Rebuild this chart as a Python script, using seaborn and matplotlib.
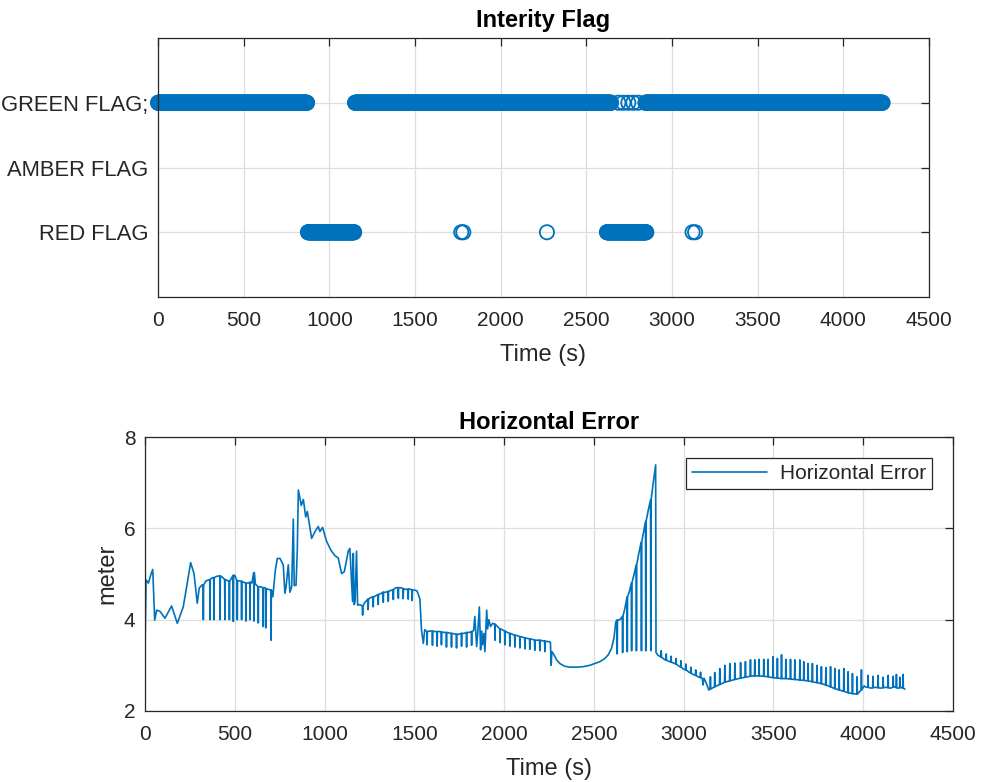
import numpy as np
import pandas as pd
import matplotlib
matplotlib.use("Agg")
import matplotlib.pyplot as plt
import seaborn as sns

# ---------------- data ----------------
flag_labels = ["RED FLAG", "AMBER FLAG", "GREEN FLAG;"]
flag_levels = [1, 2, 3]
# flag state runs (start s, end s) sampled every sample_step seconds
green_runs = [(0, 870), (1150, 2645), (2845, 4230)]
green_single = [2687, 2716, 2745, 2774, 2803]
red_runs = [(875, 1145), (2620, 2850)]
red_single = [1770, 1782, 2270, 3120, 3135]
sample_step = 2

# horizontal error trace: base points
base_time = [0, 6, 19, 32, 43, 54, 65, 84, 111, 148, 180, 213, 232, 254, 273, 291, 302, 317,
             340, 375, 400, 430, 458, 480, 500, 525, 550, 575, 595, 615, 645, 668, 690,
             712, 726, 737, 752, 770, 779, 785, 798, 807, 817, 826, 831, 841, 848, 854, 863,
             870, 882, 895, 904, 928, 947, 965, 974, 989, 1011, 1034, 1058, 1076, 1095, 1110,
             1132, 1141, 1156, 1160, 1165, 1170, 1178, 1184, 1195,
             1225, 1255, 1285, 1313, 1340, 1370, 1397, 1425, 1452, 1475, 1500, 1515, 1531,
             1540, 1550, 1558, 1585, 1613, 1640, 1665, 1693, 1720, 1748, 1777, 1805,
             1830, 1837, 1847, 1853, 1862, 1869, 1875, 1880, 1887, 1893, 1903, 1908, 1915,
             1924, 1936, 1963, 1990, 2018, 2046, 2074, 2102, 2130, 2157, 2185, 2213, 2240,
             2252, 2258, 2262, 2266, 2275, 2292, 2310, 2338, 2366, 2403, 2440, 2477, 2505,
             2533, 2561, 2580, 2598, 2612, 2622, 2645, 2673, 2698, 2723, 2750, 2777, 2803,
             2830, 2844, 2846, 2858, 2889, 2916, 2943, 2971, 2998, 3026, 3053, 3080, 3104,
             3108, 3113, 3127, 3140,
             4005, 4015, 4040, 4068, 4097, 4125, 4153, 4176, 4195, 4213, 4232]
base_value = [3.34, 4.87, 4.80, 4.98, 5.10, 3.99, 4.21, 4.18, 4.03, 4.30, 3.92, 4.28, 4.72, 5.25, 5.01, 4.36, 4.69, 4.76,
              4.85, 4.92, 4.95, 4.93, 4.86, 4.90, 4.97, 4.85, 4.82, 4.80, 4.80, 4.78, 4.72, 4.70, 4.66,
              4.50, 5.09, 5.34, 5.34, 5.20, 4.58, 4.70, 5.20, 4.60, 4.72, 6.20, 4.75, 4.75, 5.50, 6.84, 6.66,
              6.50, 6.63, 6.25, 6.37, 5.78, 5.93, 6.04, 5.93, 6.02, 5.72, 5.53, 5.40, 5.35, 5.01, 5.05,
              5.50, 5.56, 4.40, 5.45, 4.33, 4.40, 5.50, 4.32, 4.33,
              4.38, 4.48, 4.52, 4.57, 4.60, 4.64, 4.70, 4.70, 4.66, 4.67, 4.65, 4.63, 4.45,
              3.77, 3.48, 3.78, 3.75, 3.74, 3.74, 3.72, 3.71, 3.69, 3.68, 3.70, 3.72,
              3.76, 4.07, 3.41, 3.70, 4.28, 3.34, 3.75, 3.45, 3.70, 3.30, 4.21, 3.80, 4.00,
              3.85, 3.92, 3.85, 3.78, 3.72, 3.68, 3.65, 3.62, 3.59, 3.57, 3.55, 3.54, 3.52,
              3.52, 3.50, 3.00, 3.30, 3.25, 3.12, 3.04, 2.98, 2.96, 2.96, 2.97, 3.00, 3.04,
              3.08, 3.15, 3.23, 3.37, 3.60, 3.95, 4.00, 4.25, 4.62, 4.98, 5.45, 5.92, 6.40,
              6.98, 7.39, 3.28, 3.22, 3.14, 3.09, 3.05, 2.99, 2.92, 2.86, 2.80, 2.75, 2.71,
              2.57, 2.72, 2.60, 2.46,
              2.55, 2.52, 2.50, 2.52, 2.50, 2.52, 2.50, 2.53, 2.50, 2.52, 2.48]

# periodic spikes: time, trace value around spike, spike extreme value
tooth_time = [325, 362, 384, 418, 445, 470, 492, 514, 538, 562, 585, 607, 631, 659, 674, 702,
              1212, 1243, 1271, 1299, 1327, 1355, 1383, 1411, 1438, 1466, 1488,
              1571, 1601, 1627, 1651, 1679, 1707, 1735, 1763, 1791, 1819,
              1949, 1977, 2004, 2032, 2060, 2088, 2116, 2143, 2171, 2199, 2227,
              2630, 2660, 2686, 2710, 2737, 2765, 2789, 2817,
              2875, 2903, 2930, 2957, 2985, 3012, 3040, 3067, 3094,
              3149, 3173, 3201, 3229, 3257, 3285, 3317, 3344, 3372, 3396, 3420, 3446, 3470,
              3498, 3522, 3545, 3569, 3595, 3619, 3647, 3669, 3693, 3717, 3743, 3767, 3792,
              3818, 3842, 3866, 3892, 3916, 3940, 3966, 3990,
              4027, 4054, 4083, 4111, 4139, 4167, 4185, 4204, 4222]
tooth_base = [4.76, 4.88, 4.92, 4.96, 4.88, 4.84, 4.97, 4.85, 4.84, 4.80, 4.82, 5.03, 4.72, 4.70, 4.68, 4.65,
              4.30, 4.45, 4.50, 4.55, 4.60, 4.62, 4.66, 4.70, 4.68, 4.67, 4.65,
              3.74, 3.75, 3.74, 3.73, 3.72, 3.70, 3.68, 3.70, 3.72, 3.74,
              3.90, 3.80, 3.75, 3.70, 3.66, 3.63, 3.60, 3.58, 3.55, 3.55, 3.53,
              3.99, 4.07, 4.50, 4.80, 5.20, 5.70, 6.15, 6.62,
              3.18, 3.11, 3.07, 3.03, 2.96, 2.90, 2.83, 2.78, 2.73,
              2.48, 2.53, 2.58, 2.63, 2.66, 2.69, 2.72, 2.74, 2.76, 2.77, 2.77, 2.76, 2.75,
              2.73, 2.72, 2.71, 2.71, 2.70, 2.69, 2.68, 2.67, 2.66, 2.64, 2.62, 2.60, 2.57,
              2.53, 2.49, 2.46, 2.43, 2.40, 2.38, 2.37, 2.46,
              2.52, 2.51, 2.51, 2.51, 2.51, 2.52, 2.51, 2.51, 2.50]
tooth_tip = [4.00, 4.00, 4.00, 4.00, 4.00, 4.00, 3.96, 4.00, 4.00, 3.97, 4.00, 3.97, 3.93, 3.85, 3.82, 3.55,
             4.10, 4.22, 4.28, 4.33, 4.38, 4.40, 4.44, 4.47, 4.46, 4.45, 4.42,
             3.45, 3.44, 3.42, 3.45, 3.40, 3.40, 3.38, 3.42, 3.40, 3.44,
             3.55, 3.50, 3.45, 3.42, 3.40, 3.38, 3.36, 3.35, 3.33, 3.32, 3.30,
             3.25, 3.28, 3.30, 3.32, 3.32, 3.32, 3.32, 3.32,
             3.32, 3.25, 3.20, 3.15, 3.10, 3.03, 2.96, 2.90, 2.85,
             2.75, 2.84, 2.93, 3.00, 3.04, 3.05, 3.06, 3.08, 3.12, 3.12, 3.13, 3.13, 3.13,
             3.19, 3.15, 3.23, 3.13, 3.13, 3.12, 3.12, 3.08, 3.04, 3.04, 3.00, 2.97, 2.95,
             2.97, 2.93, 2.90, 2.93, 2.86, 2.82, 2.75, 2.90,
             2.78, 2.76, 2.78, 2.74, 2.78, 2.76, 2.80, 2.74, 2.80]

# ---------------- build tables ----------------
def expand(runs, singles):
    t = [np.arange(a, b + 1, sample_step) for a, b in runs]
    t.append(np.array(singles, dtype=float))
    return np.concatenate(t)

g_t = expand(green_runs, green_single)
r_t = expand(red_runs, red_single)
flags = pd.DataFrame({
    "time": np.concatenate([g_t, r_t]),
    "flag": np.concatenate([np.full(len(g_t), flag_levels[2]), np.full(len(r_t), flag_levels[0])]),
})

et, ev = list(base_time), list(base_value)
for t, b, p in zip(tooth_time, tooth_base, tooth_tip):
    et += [t - 1.5, t, t + 1.5]
    ev += [b, p, b]
err = pd.DataFrame({"time": et, "error": ev}).sort_values("time")

# ---------------- style ----------------
sns.set_theme(style="white")
plt.rcParams["font.family"] = ["Liberation Sans", "DejaVu Sans"]
C = "#0072BD"
TXT = "#262626"
GRID = "#dedede"

fig = plt.figure(figsize=(9.81, 7.82), dpi=100)
ax1 = fig.add_axes([158 / 981, 1 - 297 / 782, 771 / 981, 259 / 782])
ax2 = fig.add_axes([145 / 981, 1 - 711 / 782, 808 / 981, 274 / 782])

def style(ax):
    for s in ax.spines.values():
        s.set_color(TXT)
        s.set_linewidth(0.9)
    ax.tick_params(direction="in", length=5.5, width=0.9, colors=TXT, labelsize=15,
                   top=True, right=True, pad=7, labelcolor=TXT)
    ax.tick_params(axis="x", pad=10)
    ax.grid(True, color=GRID, linewidth=0.9)
    ax.set_axisbelow(True)

# top: flags
sns.scatterplot(data=flags, x="time", y="flag", ax=ax1, marker="o", s=105,
                facecolor="none", edgecolor=C, linewidth=1.3, legend=False, clip_on=False)
for coll in ax1.collections:
    coll.set_facecolor("none")
    coll.set_edgecolor(C)
    coll.set_clip_on(False)
ax1.set_xlim(0, 4500)
ax1.set_ylim(0, 4)
ax1.set_xticks(np.arange(0, 4501, 500))
ax1.set_yticks(flag_levels)
ax1.set_yticklabels(flag_labels)
style(ax1)
ax1.tick_params(axis="y", labelsize=15.8)
ax1.set_title("Interity Flag", fontsize=17, fontweight="bold", color="#000000", pad=8)
ax1.set_xlabel("Time (s)", fontsize=17, color=TXT, labelpad=10)
ax1.set_ylabel("")

# bottom: horizontal error
sns.lineplot(data=err, x="time", y="error", ax=ax2, color=C, linewidth=1.2,
             estimator=None, sort=True, label="Horizontal Error")
ax2.set_xlim(0, 4500)
ax2.set_ylim(2, 8)
ax2.set_xticks(np.arange(0, 4501, 500))
ax2.set_yticks([2, 4, 6, 8])
style(ax2)
ax2.set_title("Horizontal Error", fontsize=17, fontweight="bold", color="#000000", pad=6)
ax2.set_xlabel("Time (s)", fontsize=17, color=TXT, labelpad=10)
ax2.set_ylabel("meter", fontsize=17, color=TXT, labelpad=4)
leg = ax2.legend(loc="upper right", fontsize=15, frameon=True, fancybox=False,
                 framealpha=1, edgecolor=TXT, handlelength=3.6, handletextpad=0.6,
                 borderaxespad=1.0, borderpad=0.3)
leg.get_frame().set_linewidth(0.9)
leg.get_lines()[0].set_linewidth(1.2)
for t in leg.get_texts():
    t.set_color(TXT)

fig.savefig("out.png", dpi=100)
